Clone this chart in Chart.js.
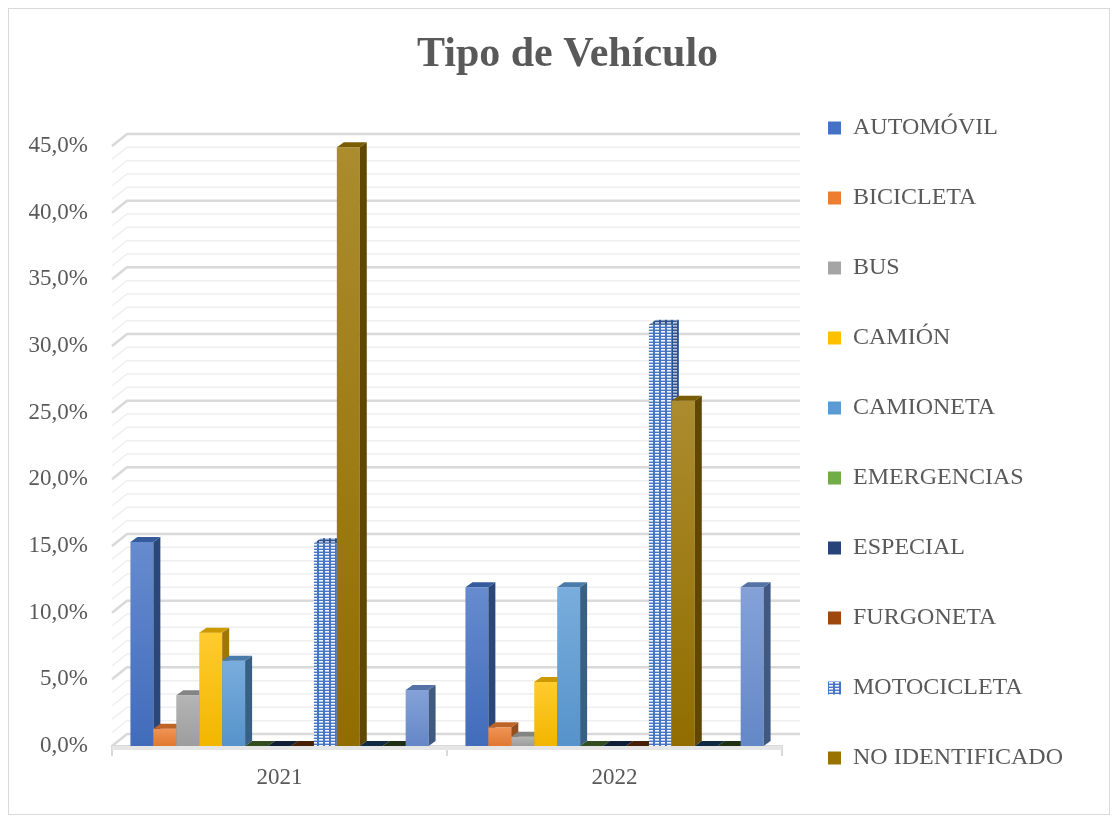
<!DOCTYPE html>
<html>
<head>
<meta charset="utf-8">
<script src="https://cdn.jsdelivr.net/npm/chart.js@4/dist/chart.umd.min.js"></script>
<style>
  html, body { margin: 0; padding: 0; background: #fff; }
  canvas { display: block; }
</style>
</head>
<body>
<canvas id="vehiculoChart" width="1118" height="821"></canvas>
<script>
// data (percent)
var years = ["2021", "2022"];
var tipos = ["AUTOMÓVIL", "BICICLETA", "BUS", "CAMIÓN", "CAMIONETA", "EMERGENCIAS",
  "ESPECIAL", "FURGONETA", "MOTOCICLETA", "NO IDENTIFICADO", "Serie 11", "Serie 12", "Serie 13"];
var automovil = [15.3, 11.9];
var bicicleta = [1.3, 1.4];
var bus = [3.8, 0.7];
var camion = [8.5, 4.8];
var camioneta = [6.4, 11.9];
var emergencias = [0, 0];
var especial = [0, 0];
var furgoneta = [0, 0];
var motocicleta = [15.2, 31.6];
var noIdentificado = [44.9, 25.9];
var serie11 = [0, 0];
var serie12 = [0, 0];
var serie13 = [4.2, 11.9];
var yTickLabels = ["0,0%", "5,0%", "10,0%", "15,0%", "20,0%", "25,0%", "30,0%", "35,0%", "40,0%", "45,0%"];
var shownInLegend = 10; // the last three series are cut off in the original legend

var colores = ["#4472C4", "#ED7D31", "#A5A5A5", "#FFC000", "#5B9BD5", "#70AD47",
  "#264478", "#9E480E", "#4472C4", "#997300", "#255E91", "#43682B", "#698ED0"];
var valores = [automovil, bicicleta, bus, camion, camioneta, emergencias, especial,
  furgoneta, motocicleta, noIdentificado, serie11, serie12, serie13];

var canvas = document.getElementById("vehiculoChart");
var ctx = canvas.getContext("2d");

function makePattern(bg, dot) {
  var c = document.createElement("canvas");
  c.width = 6; c.height = 3;
  var x = c.getContext("2d");
  x.fillStyle = bg; x.fillRect(0, 0, 6, 3);
  x.fillStyle = dot; x.fillRect(1, 1, 4, 1.6);
  return ctx.createPattern(c, "repeat");
}
var motoPattern = makePattern("#4675C6", "#f4f7fc");
var motoPatternDark = makePattern("#2F528F", "#b8c6e2");

function rgbOf(hex) {
  var n = parseInt(hex.slice(1), 16);
  return [(n >> 16) & 255, (n >> 8) & 255, n & 255];
}
function shade(hex, k) {
  var c = rgbOf(hex);
  return "rgb(" + Math.round(c[0] * k) + "," + Math.round(c[1] * k) + "," + Math.round(c[2] * k) + ")";
}
function tint(hex, k) {
  var c = rgbOf(hex);
  return "rgb(" + Math.round(c[0] + (255 - c[0]) * k) + "," + Math.round(c[1] + (255 - c[1]) * k) + "," + Math.round(c[2] + (255 - c[2]) * k) + ")";
}

var datasets = tipos.map(function (t, i) {
  return {
    label: t,
    data: valores[i],
    backgroundColor: i === 8 ? motoPattern : colores[i],
    borderWidth: 0
  };
});

// fake 3d: back wall with gridlines, then boxes drawn left to right
var barDx = 7, barDy = 5, wallDx = 15, wallDy = 12;
var bars3d = {
  id: "bars3d",
  afterLayout: function (chart) {
    // nudge the title to where the original has it
    chart.titleBlock.left += 17;
    chart.titleBlock.right += 17;
  },
  beforeDraw: function (chart) {
    var c = chart.ctx;
    c.save();
    c.strokeStyle = "#d9d9d9";
    c.lineWidth = 1;
    c.strokeRect(8.5, 8.5, 1101, 806);
    c.restore();
  },
  beforeDatasetsDraw: function (chart) {
    var c = chart.ctx, a = chart.chartArea, ys = chart.scales.y;
    c.save();
    for (var v = ys.min; v <= ys.max; v++) {
      var py = ys.getPixelForValue(v);
      var major = v % 5 === 0;
      c.beginPath();
      c.moveTo(a.left, py);
      c.lineTo(a.left + wallDx, py - wallDy);
      c.lineTo(a.right + 18, py - wallDy);
      c.strokeStyle = major ? "#d9d9d9" : "#efefef";
      c.lineWidth = major ? 2.5 : 1.5;
      c.stroke();
    }
    // floor
    var fb = ys.getPixelForValue(0);
    c.fillStyle = "#e6e6e6";
    c.fillRect(a.left, fb, a.right - a.left, 4);
    chart.data.datasets.forEach(function (ds, i) {
      var meta = chart.getDatasetMeta(i);
      meta.data.forEach(function (el) {
        var l = el.x - el.width / 2, r = el.x + el.width / 2, t = el.y, b = el.base;
        var col = colores[i];
        if (b - t > 0.5) {
          if (i === 8) {
            c.fillStyle = motoPattern;
          } else {
            var g = c.createLinearGradient(0, t, 0, b);
            g.addColorStop(0, tint(col, 0.18));
            g.addColorStop(1, shade(col, 0.95));
            c.fillStyle = g;
          }
          c.fillRect(l, t, r - l, b - t);
          c.fillStyle = i === 8 ? motoPatternDark : shade(col, 0.62);
          c.beginPath();
          c.moveTo(r, t); c.lineTo(r + barDx, t - barDy);
          c.lineTo(r + barDx, b - barDy); c.lineTo(r, b);
          c.closePath(); c.fill();
        }
        c.fillStyle = i === 8 ? motoPatternDark : shade(col, b - t > 0.5 ? 0.8 : 0.45);
        c.beginPath();
        c.moveTo(l, t); c.lineTo(l + barDx, t - barDy);
        c.lineTo(r + barDx, t - barDy); c.lineTo(r, t);
        c.closePath(); c.fill();
      });
    });
    c.restore();
    return false;
  }
};

var vehiculoChart = new Chart(canvas, {
  type: "bar",
  data: { labels: years, datasets: datasets },
  options: {
    responsive: false,
    animation: false,
    layout: { padding: { left: 28, right: 45, top: 65, bottom: 0 } },
    datasets: { bar: { barPercentage: 1, categoryPercentage: 0.89 } },
    plugins: {
      title: {
        display: true,
        text: "Tipo de Vehículo",
        color: "#595959",
        font: { family: "Liberation Serif", size: 42, weight: "bold", lineHeight: 1 },
        padding: { top: -31, bottom: 70 }
      },
      legend: {
        position: "right",
        maxWidth: 300,
        labels: {
          color: "#595959",
          font: { family: "Liberation Serif", size: 24 },
          boxWidth: 13,
          boxHeight: 13,
          padding: 46,
          filter: function (item) { return item.datasetIndex < shownInLegend; }
        }
      },
      tooltip: { enabled: false }
    },
    scales: {
      x: {
        afterFit: function (s) { s.height = 75; },
        grid: { display: true, drawOnChartArea: false, drawTicks: true, tickLength: 10, color: "#d9d9d9", lineWidth: 2 },
        border: { display: true, color: "#d9d9d9", width: 2 },
        ticks: { color: "#595959", padding: 8, font: { family: "Liberation Serif", size: 23 } }
      },
      y: {
        min: 0,
        max: 45,
        afterFit: function (s) { s.width = 84; },
        grid: { display: false, drawTicks: false },
        border: { display: false },
        ticks: {
          stepSize: 5,
          padding: 24,
          color: "#595959",
          font: { family: "Liberation Serif", size: 23 },
          callback: function (v, i) { return yTickLabels[i]; }
        }
      }
    }
  },
  plugins: [bars3d]
});
</script>
</body>
</html>
